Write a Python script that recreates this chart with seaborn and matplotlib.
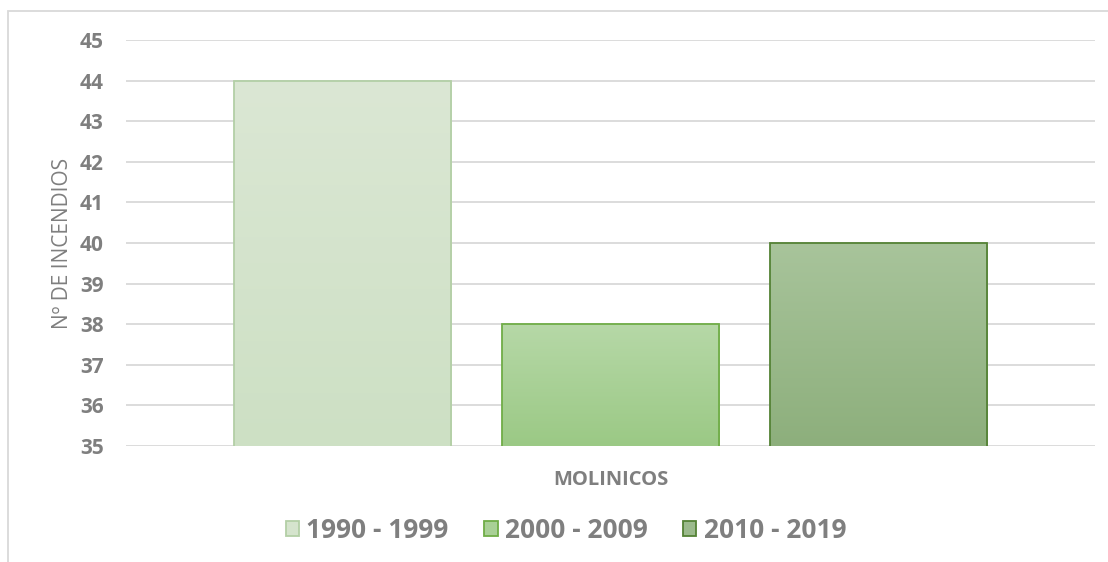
import matplotlib
matplotlib.use('Agg')
import matplotlib.pyplot as plt
import seaborn as sns
import numpy as np
import pandas as pd
from matplotlib.colors import LinearSegmentedColormap
from matplotlib.patches import Patch, Rectangle

# data
municipio = ['MOLINICOS']
periodos = ['1990 - 1999', '2000 - 2009', '2010 - 2019']
incendios = [44, 38, 40]

top_colors = ['#dbe7d4', '#b6d8a7', '#a8c49b']
bottom_colors = ['#cde0c4', '#9bc985', '#8daf7c']
edge_colors = ['#b3cfa6', '#70ad47', '#548235']
mid_colors = ['#d5e4cd', '#a9d096', '#9bba8c']

df = pd.DataFrame({'municipio': municipio * 3,
                   'periodo': periodos,
                   'incendios': incendios})

sns.set_style('white')
plt.rcParams['font.family'] = ['Open Sans', 'DejaVu Sans']
gray = '#7f7f7f'

fig = plt.figure(figsize=(11.08, 5.62), dpi=100)
ax = fig.add_axes([126/1108, 116/562, 969/1108, 406/562])

sns.barplot(data=df, x='municipio', y='incendios', hue='periodo',
            hue_order=periodos, palette=mid_colors, width=0.83, gap=0.19,
            legend=False, ax=ax)

ymin, ymax = 35, 45
for i, p in enumerate(ax.patches):
    x0 = p.get_x()
    w = p.get_width()
    h = p.get_height()
    cmap = LinearSegmentedColormap.from_list('g%d' % i, [bottom_colors[i], top_colors[i]])
    grad = np.linspace(0, 1, 256).reshape(-1, 1)
    im = ax.imshow(grad, cmap=cmap, origin='lower', aspect='auto',
                   extent=[x0, x0 + w, ymin, h], zorder=2)
    im.set_clip_path(p)
    p.set_facecolor('none')
    p.set_edgecolor(edge_colors[i])
    p.set_linewidth(1.3)
    p.set_zorder(3)

ax.set_xlim(-0.5, 0.5)
ax.set_ylim(ymin, ymax)
ax.set_yticks(range(35, 46))
ax.yaxis.grid(True, color='#d9d9d9', linewidth=1.3, zorder=0)
ax.set_axisbelow(True)
for s in ax.spines.values():
    s.set_visible(False)
ax.tick_params(axis='both', length=0, colors=gray)
ax.tick_params(axis='y', pad=16)
ax.tick_params(axis='x', pad=17)
for lbl in ax.get_yticklabels():
    lbl.set_fontweight('bold')
    lbl.set_fontsize(15)
for lbl in ax.get_xticklabels():
    lbl.set_fontweight('bold')
    lbl.set_fontsize(14.5)

ax.set_xlabel('')
ax.set_ylabel('Nº DE INCENDIOS', color=gray, fontsize=15, labelpad=5)

handles = [Patch(facecolor=mid_colors[i], edgecolor=edge_colors[i], linewidth=1.3)
           for i in range(3)]
leg = fig.legend(handles, periodos, loc='center', bbox_to_anchor=(566/1108, 32/562),
                 ncol=3, frameon=False, handlelength=0.5, handleheight=0.5,
                 handletextpad=0.27, columnspacing=1.36,
                 prop={'weight': 'bold', 'size': 19})
for t in leg.get_texts():
    t.set_color(gray)

# outer chart frame
fig.patches.append(Rectangle((8/1108, -0.1), 1.2, 1 - 11/562 + 0.1,
                             transform=fig.transFigure, fill=False,
                             edgecolor='#d9d9d9', linewidth=1.3))

fig.savefig('out.png', dpi=100)
